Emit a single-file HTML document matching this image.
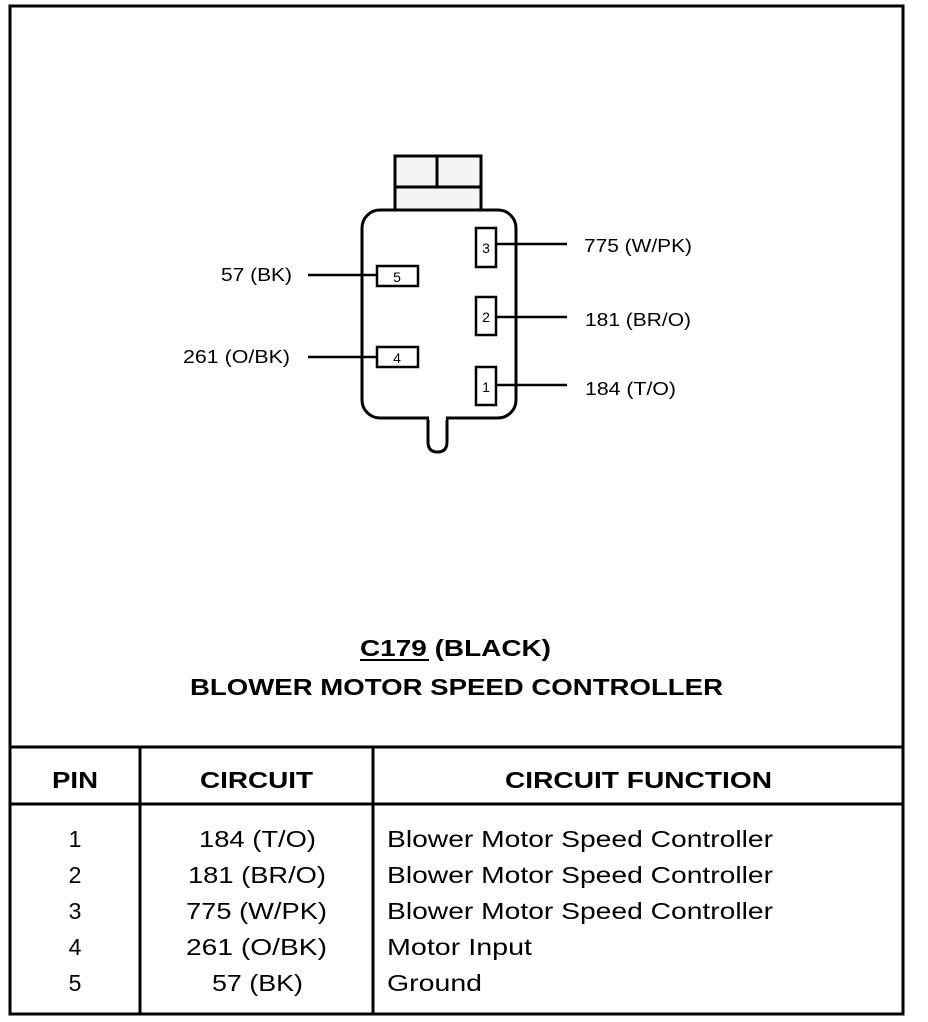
<!DOCTYPE html>
<html><head><style>body{margin:0;background:#fff}svg{display:block}</style></head><body>
<svg width="928" height="1022" viewBox="0 0 928 1022" xmlns="http://www.w3.org/2000/svg" font-family="Liberation Sans, Arial, sans-serif">
<rect x="0" y="0" width="928" height="1022" fill="#fff"/>
<g fill="none" stroke="#000">
<rect x="10" y="6" width="893" height="1008" stroke-width="3"/>
<line x1="10" y1="747" x2="903" y2="747" stroke-width="3"/>
<line x1="10" y1="804" x2="903" y2="804" stroke-width="3"/>
<line x1="140" y1="747" x2="140" y2="1014" stroke-width="3"/>
<line x1="373" y1="747" x2="373" y2="1014" stroke-width="3"/>
<rect x="395" y="156" width="86" height="54" stroke-width="3" fill="#f4f4f4"/>
<line x1="437" y1="156" x2="437" y2="187" stroke-width="3"/>
<line x1="395" y1="187" x2="481" y2="187" stroke-width="3"/>
<path d="M428 418 V442 Q428 452 437.5 452 Q447 452 447 442 V418" stroke-width="3" fill="#fff"/>
<rect x="362" y="210" width="154" height="208" rx="18" stroke-width="3" fill="#fff"/>
<line x1="429" y1="418" x2="446" y2="418" stroke="#fff" stroke-width="4"/>
<rect x="476" y="228" width="20" height="39" stroke-width="2.5"/>
<rect x="476" y="297" width="20" height="38" stroke-width="2.5"/>
<rect x="476" y="367" width="20" height="38" stroke-width="2.5"/>
<rect x="377" y="266" width="41" height="20" stroke-width="2.5"/>
<rect x="377" y="347" width="41" height="20" stroke-width="2.5"/>
<line x1="496" y1="244" x2="567" y2="244" stroke-width="2.5"/>
<line x1="496" y1="317" x2="567" y2="317" stroke-width="2.5"/>
<line x1="496" y1="385" x2="567" y2="385" stroke-width="2.5"/>
<line x1="308" y1="275" x2="377" y2="275" stroke-width="2.5"/>
<line x1="308" y1="357" x2="377" y2="357" stroke-width="2.5"/>
<line x1="360" y1="660" x2="429" y2="660" stroke-width="2"/>
</g>
<g font-size="14" text-anchor="middle">
<text x="486" y="253">3</text><text x="486" y="322">2</text><text x="486" y="392">1</text>
<text x="397" y="282">5</text><text x="397" y="363">4</text>
</g>
<g font-size="18">
<text x="584" y="252" textLength="108" lengthAdjust="spacingAndGlyphs">775 (W/PK)</text>
<text x="585" y="326" textLength="106" lengthAdjust="spacingAndGlyphs">181 (BR/O)</text>
<text x="585" y="395" textLength="91" lengthAdjust="spacingAndGlyphs">184 (T/O)</text>
<text x="221" y="281" textLength="71" lengthAdjust="spacingAndGlyphs">57 (BK)</text>
<text x="183" y="363" textLength="107" lengthAdjust="spacingAndGlyphs">261 (O/BK)</text>
</g>
<g font-weight="bold" font-size="23">
<text x="360" y="656" textLength="191" lengthAdjust="spacingAndGlyphs">C179 (BLACK)</text>
<text x="190" y="695" textLength="533" lengthAdjust="spacingAndGlyphs">BLOWER MOTOR SPEED CONTROLLER</text>
<text x="52" y="788" textLength="46" lengthAdjust="spacingAndGlyphs">PIN</text>
<text x="200" y="788" textLength="113" lengthAdjust="spacingAndGlyphs">CIRCUIT</text>
<text x="505" y="788" textLength="267" lengthAdjust="spacingAndGlyphs">CIRCUIT FUNCTION</text>
</g>
<g font-size="23">
<g text-anchor="middle">
<text x="75" y="847">1</text><text x="75" y="883">2</text><text x="75" y="919">3</text><text x="75" y="955">4</text><text x="75" y="991">5</text>
</g>
<text x="199" y="847" textLength="117" lengthAdjust="spacingAndGlyphs">184 (T/O)</text>
<text x="188" y="883" textLength="138" lengthAdjust="spacingAndGlyphs">181 (BR/O)</text>
<text x="186" y="919" textLength="141" lengthAdjust="spacingAndGlyphs">775 (W/PK)</text>
<text x="186" y="955" textLength="141" lengthAdjust="spacingAndGlyphs">261 (O/BK)</text>
<text x="212" y="991" textLength="91" lengthAdjust="spacingAndGlyphs">57 (BK)</text>
<text x="387" y="847" textLength="386" lengthAdjust="spacingAndGlyphs">Blower Motor Speed Controller</text>
<text x="387" y="883" textLength="386" lengthAdjust="spacingAndGlyphs">Blower Motor Speed Controller</text>
<text x="387" y="919" textLength="386" lengthAdjust="spacingAndGlyphs">Blower Motor Speed Controller</text>
<text x="387" y="955" textLength="145" lengthAdjust="spacingAndGlyphs">Motor Input</text>
<text x="387" y="991" textLength="95" lengthAdjust="spacingAndGlyphs">Ground</text>
</g>
</svg>
</body></html>
